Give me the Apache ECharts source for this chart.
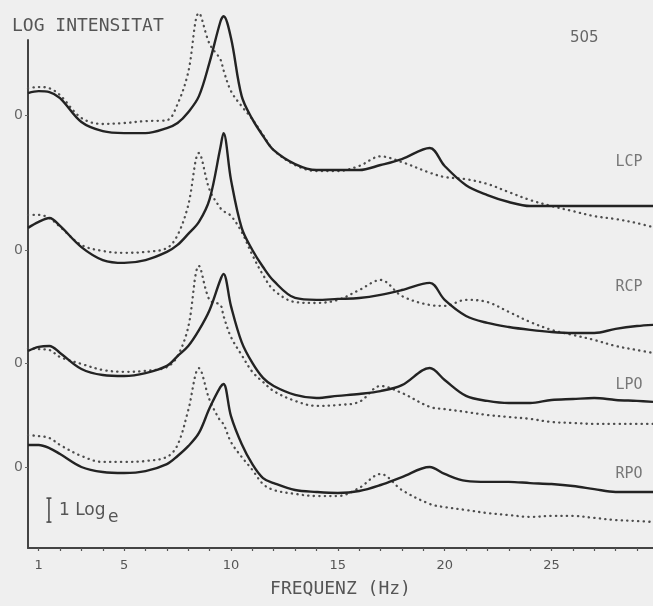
<!DOCTYPE html>
<html>
<head>
<meta charset="utf-8">
<script src="https://cdn.jsdelivr.net/npm/echarts@6/dist/echarts.min.js"></script>
<style>
html, body { margin: 0; padding: 0; background: #efefef; }
#chart { width: 653px; height: 606px; }
</style>
</head>
<body>
<div id="chart"></div>
<script>
// frequency grid (Hz) shared by all curves
const freqs = [0.5, 1, 1.5, 2, 3, 4, 5, 6, 7, 7.5, 8, 8.5, 9, 9.5, 9.65, 10, 10.5, 11, 11.5, 12,
    13, 14, 15, 16, 17, 18, 19.3, 20, 21, 22, 23, 24, 25, 26, 27, 28, 29, 29.75];

const channels = ['LCP', 'RCP', 'LPO', 'RPO'];
// where each channel's "0" sits on the common log axis
const zeroLevels = [18.04, 12.42, 7.71, 3.375];

// log intensity relative to each channel's 0 (solid / dotted)
const lcpSolid = [0.92, 1.0, 0.96, 0.71, -0.29, -0.67, -0.75, -0.75, -0.54, -0.33, 0.12, 0.79, 2.21, 3.88, 4.12, 3.21, 0.79, -0.17, -0.87, -1.46,
    -2.04, -2.29, -2.29, -2.29, -2.08, -1.83, -1.37, -2.12, -2.92, -3.33, -3.62, -3.79, -3.79, -3.79, -3.79, -3.79, -3.79, -3.79];
const lcpDotted = [1.12, 1.17, 1.12, 0.83, -0.12, -0.37, -0.33, -0.25, -0.21, 0.46, 1.79, 4.25, 2.96, 2.33, 1.87, 1.0, 0.37, -0.17, -0.83, -1.46,
    -2.08, -2.33, -2.33, -2.12, -1.72, -1.96, -2.4, -2.58, -2.67, -2.87, -3.21, -3.54, -3.79, -4.0, -4.21, -4.33, -4.5, -4.67];
const rcpSolid = [0.92, 1.17, 1.33, 1.0, 0.12, -0.42, -0.54, -0.42, -0.08, 0.21, 0.67, 1.17, 2.12, 4.25, 4.87, 2.92, 0.92, 0, -0.71, -1.29,
    -2.0, -2.08, -2.04, -2.0, -1.87, -1.67, -1.37, -2.08, -2.75, -3.04, -3.21, -3.33, -3.42, -3.46, -3.46, -3.29, -3.17, -3.12];
const rcpDotted = [1.46, 1.46, 1.33, 0.96, 0.21, -0.04, -0.12, -0.08, 0.08, 0.62, 1.87, 4.04, 2.5, 1.75, 1.62, 1.42, 0.75, -0.21, -1.04, -1.67,
    -2.17, -2.21, -2.08, -1.67, -1.25, -1.92, -2.29, -2.33, -2.08, -2.17, -2.58, -3.0, -3.33, -3.54, -3.75, -4.0, -4.17, -4.29];
const lpoSolid = [0.5, 0.67, 0.71, 0.42, -0.25, -0.5, -0.54, -0.42, -0.12, 0.29, 0.71, 1.37, 2.21, 3.46, 3.71, 2.37, 0.87, 0, -0.62, -0.96,
    -1.33, -1.46, -1.37, -1.29, -1.17, -0.92, -0.21, -0.71, -1.37, -1.58, -1.67, -1.67, -1.54, -1.5, -1.46, -1.54, -1.58, -1.62];
const lpoDotted = [0.62, 0.58, 0.54, 0.25, -0.04, -0.29, -0.37, -0.33, -0.17, 0.29, 1.5, 4.04, 2.62, 2.42, 1.96, 1.08, 0.33, -0.37, -0.79, -1.17,
    -1.58, -1.79, -1.75, -1.62, -0.96, -1.25, -1.83, -1.92, -2.04, -2.17, -2.25, -2.33, -2.46, -2.5, -2.54, -2.54, -2.54, -2.54];
const rpoSolid = [0.92, 0.92, 0.79, 0.54, 0, -0.21, -0.25, -0.17, 0.12, 0.46, 0.87, 1.42, 2.46, 3.33, 3.46, 2.12, 0.96, 0.12, -0.46, -0.67,
    -0.96, -1.04, -1.08, -1.0, -0.75, -0.42, 0, -0.29, -0.58, -0.62, -0.62, -0.67, -0.71, -0.79, -0.92, -1.04, -1.04, -1.04];
const rpoDotted = [1.33, 1.29, 1.21, 0.92, 0.46, 0.21, 0.21, 0.25, 0.42, 0.92, 2.37, 4.12, 2.79, 1.92, 1.79, 1.04, 0.42, -0.12, -0.71, -0.96,
    -1.12, -1.21, -1.21, -0.87, -0.29, -0.96, -1.54, -1.67, -1.79, -1.92, -2.0, -2.08, -2.04, -2.04, -2.12, -2.21, -2.25, -2.29];

const solidCurves = [lcpSolid, rcpSolid, lpoSolid, rpoSolid];
const dottedCurves = [lcpDotted, rcpDotted, lpoDotted, rpoDotted];

// axis ticks
const xLabelValues = [1, 5, 10, 15, 20, 25];
const xTickValues = [1, 2, 3, 4, 5, 6, 7, 8, 9, 10, 11, 12, 13, 14, 15, 16, 17, 18, 19, 20, 21, 22, 23, 24, 25, 26, 27, 28, 29];

const myChart = echarts.init(document.getElementById('chart'));

const series = [];
channels.forEach((name, i) => {
    series.push({
        name: name + ' dotted',
        type: 'line',
        clip: false,
        smooth: 0.35,
        showSymbol: false,
        lineStyle: { color: '#4d4d4d', width: 2.3, type: [0.3, 5.2], cap: 'round' },
        data: freqs.map((f, k) => [f, zeroLevels[i] + dottedCurves[i][k]])
    });
    series.push({
        name: name,
        type: 'line',
        clip: false,
        smooth: 0.35,
        showSymbol: false,
        lineStyle: { color: '#232323', width: 2.4 },
        data: freqs.map((f, k) => [f, zeroLevels[i] + solidCurves[i][k]])
    });
});

const monoFont = '"DejaVu Sans Mono", monospace';

const option = {
    backgroundColor: '#efefef',
    animation: false,
    grid: { left: 28, right: 0, top: 40, bottom: 58, outerBoundsMode: 'none' },
    xAxis: {
        type: 'value',
        min: 0.5,
        max: 29.75,
        name: 'FREQUENZ (Hz)',
        nameLocation: 'middle',
        nameGap: 32,
        nameTextStyle: { fontFamily: monoFont, fontSize: 18, color: '#555' },
        axisLine: { lineStyle: { color: '#444', width: 2 } },
        axisTick: { customValues: xTickValues, length: 3, lineStyle: { color: '#555', width: 1.2 } },
        axisLabel: {
            customValues: xLabelValues,
            margin: 11,
            fontFamily: 'DejaVu Sans',
            fontSize: 13,
            color: '#555'
        },
        splitLine: { show: false }
    },
    yAxis: {
        type: 'value',
        min: 0,
        max: 21.17,
        axisLine: { show: true, lineStyle: { color: '#444', width: 2 } },
        axisTick: { show: true, customValues: zeroLevels, length: 3, lineStyle: { color: '#666', width: 1 } },
        axisLabel: {
            customValues: zeroLevels,
            formatter: () => '0',
            margin: 5,
            fontFamily: 'DejaVu Sans',
            fontSize: 14,
            color: '#666'
        },
        splitLine: { show: false }
    },
    series: series
};
myChart.setOption(option);

// scale bar of one log unit, placed through the chart's own scales
const barFreq = 1.48;
const barBase = 1.08;
const pBottom = myChart.convertToPixel({ gridIndex: 0 }, [barFreq, barBase]);
const pTop = myChart.convertToPixel({ gridIndex: 0 }, [barFreq, barBase + 1]);
const barMid = (pTop[1] + pBottom[1]) / 2;

const labelY = [162, 287, 385, 474];

myChart.setOption({
    graphic: [
        { type: 'text', left: 12, top: 17, style: { text: 'LOG INTENSITAT', font: '18px ' + monoFont, fill: '#555' } },
        { type: 'text', left: 570, top: 31, style: { text: '505', font: '15px "DejaVu Sans"', fill: '#666' } },
        ...channels.map((c, i) => ({
            type: 'text', x: 629, y: labelY[i],
            style: { text: c, font: '15px ' + monoFont, fill: '#777', align: 'center', verticalAlign: 'middle' }
        })),
        { type: 'line', shape: { x1: pBottom[0], y1: pBottom[1], x2: pTop[0], y2: pTop[1] }, style: { stroke: '#444', lineWidth: 1.5 } },
        { type: 'line', shape: { x1: pTop[0] - 2.5, y1: pTop[1], x2: pTop[0] + 2.5, y2: pTop[1] }, style: { stroke: '#444', lineWidth: 1.5 } },
        { type: 'line', shape: { x1: pBottom[0] - 2.5, y1: pBottom[1], x2: pBottom[0] + 2.5, y2: pBottom[1] }, style: { stroke: '#444', lineWidth: 1.5 } },
        { type: 'text', x: pTop[0] + 10, y: barMid, style: { text: '1 Log', font: '17px "DejaVu Sans"', fill: '#555', verticalAlign: 'middle' } },
        { type: 'text', x: pTop[0] + 59, y: barMid + 7, style: { text: 'e', font: '17px "DejaVu Sans"', fill: '#555', verticalAlign: 'middle' } }
    ]
});

window.addEventListener('resize', function () {
    myChart.resize();
});
</script>
</body>
</html>
